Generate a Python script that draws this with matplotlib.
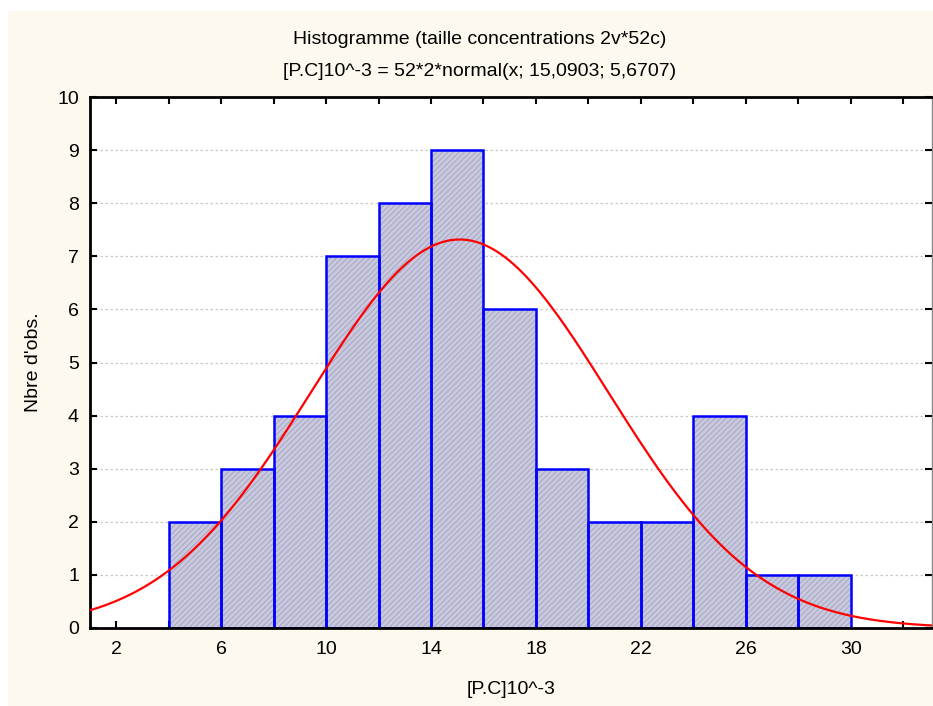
import numpy as np
import matplotlib
matplotlib.use("Agg")
import matplotlib.pyplot as plt
from matplotlib.patches import Rectangle

# histogram data
bin_edges = [4, 6, 8, 10, 12, 14, 16, 18, 20, 22, 24, 26, 28, 30]
counts = [2, 3, 4, 7, 8, 9, 6, 3, 2, 2, 4, 1, 1]
n_obs = 52
bin_width = 2
mean = 15.0903
sd = 5.6707

x_ticks = [2, 6, 10, 14, 18, 22, 26, 30]
y_ticks = [0, 1, 2, 3, 4, 5, 6, 7, 8, 9, 10]

plt.rcParams['font.family'] = ['Liberation Sans', 'DejaVu Sans']
plt.rcParams['hatch.linewidth'] = 0.6

fig = plt.figure(figsize=(9.33, 7.06), dpi=100)
fig.patch.set_facecolor("white")
fig.patches.append(Rectangle((8 / 933, 0), 1, 1 - 11 / 706, transform=fig.transFigure,
                             facecolor="#fdf9ef", edgecolor="none", zorder=-10))

ax = fig.add_axes([90 / 933, 78 / 706, 842 / 933, 531 / 706])
ax.set_facecolor("white")

lefts = bin_edges[:-1]
# fill with hatch texture
ax.bar(lefts, counts, width=bin_width, align="edge", facecolor="#c8c8de",
       edgecolor="#a2a2be", hatch="//////", linewidth=0, zorder=2)
# blue outlines
ax.bar(lefts, counts, width=bin_width, align="edge", fill=False,
       edgecolor="#0000ff", linewidth=1.8, zorder=3)

xs = np.linspace(1, 33.1, 400)
pdf = n_obs * bin_width * np.exp(-0.5 * ((xs - mean) / sd) ** 2) / (sd * np.sqrt(2 * np.pi))
ax.plot(xs, pdf, color="#ff0000", linewidth=1.6, zorder=4)

ax.set_xlim(1, 33.1)
ax.set_ylim(0, 10)
ax.set_xticks(x_ticks)
ax.set_xticks(np.arange(4, 33, 4), minor=True)
ax.set_yticks(y_ticks)

for y in y_ticks[1:-1]:
    ax.axhline(y, color="#c8c8c8", linewidth=0.9, linestyle=(0, (2, 2)), zorder=1)

ax.tick_params(axis="both", which="both", direction="in", length=5, width=1.5,
               labelsize=14, colors="black", top=True, right=True)
ax.tick_params(axis="x", pad=9)
ax.tick_params(axis="y", pad=8)

for s in ["left", "top", "bottom"]:
    ax.spines[s].set_linewidth(2)
    ax.spines[s].set_color("black")
ax.spines["right"].set_linewidth(1)
ax.spines["right"].set_color("#888888")
ax.spines["bottom"].set_zorder(5)

ax.set_xlabel("[P.C]10^-3", fontsize=14, labelpad=17)
ax.set_ylabel("Nbre d'obs.", fontsize=14, labelpad=11)

fig.text(480 / 933, 1 - 39 / 706, "Histogramme (taille concentrations 2v*52c)",
         ha="center", va="center", fontsize=14)
fig.text(480 / 933, 1 - 71 / 706, "[P.C]10^-3 = 52*2*normal(x; 15,0903; 5,6707)",
         ha="center", va="center", fontsize=14)

fig.savefig("out.png", dpi=100, facecolor=fig.get_facecolor())
